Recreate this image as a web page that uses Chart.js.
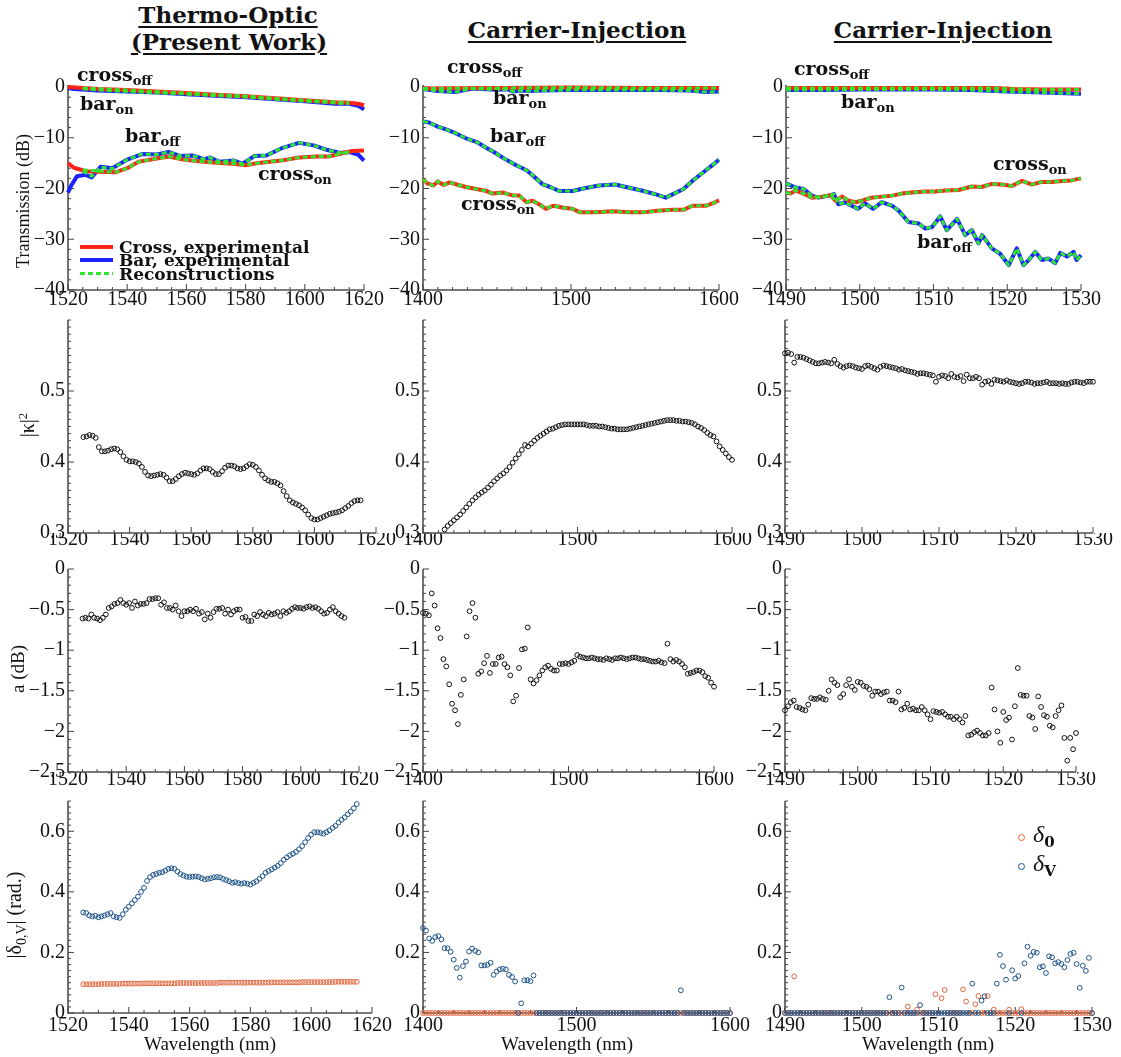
<!DOCTYPE html>
<html><head><meta charset="utf-8">
<script src="https://cdn.jsdelivr.net/npm/chart.js@4.4.0/dist/chart.umd.min.js"></script>
<style>
html,body{margin:0;padding:0;background:#fff;}
body{width:1121px;height:1057px;position:relative;overflow:hidden;font-family:'Liberation Serif','Times New Roman',Times,serif;color:#111;}
canvas{position:absolute;}
.t{position:absolute;white-space:nowrap;}
.title{font:bold 23px/26px 'DejaVu Serif',serif;text-decoration:underline;text-decoration-thickness:2px;text-underline-offset:3px;transform:translateX(-50%);}
.ann{font:bold 19px/22px 'DejaVu Serif',serif;}
.ann sub{font-size:13px;vertical-align:-4px;line-height:0;}
.ylab{font:18px/20px 'Liberation Serif','Times New Roman',Times,serif;transform:translate(-50%,-50%) rotate(-90deg);}
.xlab{font:19px/20px 'Liberation Serif','Times New Roman',Times,serif;transform:translateX(-50%);}
.leg{font:bold 17px/18px 'DejaVu Serif',serif;}
.sw{position:absolute;}
.circ{position:absolute;width:5px;height:5px;border-radius:50%;border:1.4px solid;}
.dl{font:italic 24px/26px 'Liberation Serif','Times New Roman',Times,serif;}
.dl span{font:bold 15px 'DejaVu Serif',serif;vertical-align:-5px;line-height:0;font-style:normal;}
</style></head><body>
<script>
// ================= DATA =================
// ---- Row 1: transmission (dB) ----
// Column 1: thermo-optic (1520-1620 nm)
const c1CrossOffWl=[1520,1525,1530,1540,1550,1560,1570,1580,1590,1600,1610,1615,1618,1620];
const c1CrossOffT=[0,-0.2,-0.4,-0.6,-0.9,-1.2,-1.5,-1.8,-2.2,-2.6,-3.0,-3.1,-3.3,-3.6];
const c1BarOnWl=[1520,1522,1530,1540,1550,1560,1570,1580,1590,1600,1610,1615,1618,1620];
const c1BarOnT=[-0.2,-0.4,-0.7,-0.9,-1.1,-1.4,-1.7,-2.0,-2.4,-2.8,-3.3,-3.3,-3.7,-4.4];
const c1BarOffWl=[1520,1521,1523,1526,1528,1531,1535,1540,1545,1550,1554,1558,1562,1566,1568,1571,1576,1579,1583,1587,1592,1598,1603,1607,1612,1615,1618,1620];
const c1BarOffT=[-20.8,-19.5,-17.6,-17.3,-17.8,-15.7,-16.0,-14.3,-13.2,-13.3,-12.8,-13.6,-13.5,-14.2,-13.9,-14.7,-14.5,-15.1,-13.6,-13.5,-12.1,-11.0,-11.5,-12.3,-13.0,-12.8,-13.3,-14.5];
const c1CrossOnWl=[1520,1522,1526,1531,1536,1540,1544,1550,1554,1559,1565,1570,1576,1580,1585,1592,1598,1604,1608,1613,1616,1620];
const c1CrossOnT=[-15.0,-15.9,-16.6,-16.7,-16.8,-16.0,-14.7,-14.1,-13.7,-14.3,-14.7,-14.9,-15.1,-15.4,-14.9,-14.5,-13.9,-13.7,-13.7,-13.0,-12.6,-12.5];
const c1RecOffWl=[1525,1540,1560,1580,1600,1615];
const c1RecCrossOffT=[-0.2,-0.6,-1.2,-1.8,-2.6,-3.1];
const c1RecBarOnT=[-0.4,-0.9,-1.4,-2.0,-2.8,-3.3];
const c1RecBarOffWl=[1525,1528,1531,1535,1540,1545,1550,1554,1558,1562,1566,1568,1571,1576,1579,1583,1587,1592,1598,1603,1607,1612,1615];
const c1RecBarOffT=[-16.6,-17.6,-15.8,-16.1,-14.3,-13.2,-13.3,-12.8,-13.6,-13.5,-14.2,-13.9,-14.7,-14.5,-15.1,-13.6,-13.5,-12.1,-11.0,-11.5,-12.3,-13.0,-12.8];
const c1RecCrossOnWl=[1525,1531,1536,1540,1544,1550,1554,1559,1565,1570,1576,1580,1585,1592,1598,1604,1608,1613,1615];
const c1RecCrossOnT=[-16.3,-16.6,-16.8,-16.0,-14.7,-14.1,-13.7,-14.3,-14.7,-14.9,-15.1,-15.4,-14.9,-14.5,-13.9,-13.7,-13.7,-13.0,-12.9];
// Column 2: carrier injection (1400-1600 nm)
const c2CrossOffWl=[1400,1450,1500,1550,1600];
const c2CrossOffT=[-0.3,-0.2,-0.1,-0.2,-0.2];
const c2BarOnWl=[1400,1405,1410,1416,1422,1428,1434,1440,1446,1452,1458,1461,1466,1472,1480,1500,1520,1540,1560,1580,1591,1600];
const c2BarOnT=[-0.4,-0.6,-0.8,-0.9,-1.0,-0.6,-0.3,-0.4,-0.5,-0.5,-0.5,-0.9,-0.7,-0.8,-0.7,-0.6,-0.6,-0.6,-0.6,-0.7,-1.0,-0.9];
const c2BarOffWl=[1400,1404,1410,1416,1422,1429,1436,1443,1449,1456,1463,1470,1476,1481,1486,1492,1501,1510,1519,1530,1540,1549,1558,1564,1569,1576,1582,1589,1596,1600];
const c2BarOffT=[-6.8,-7.0,-7.8,-8.4,-9.1,-10.1,-10.8,-12.0,-13.0,-14.3,-15.4,-16.4,-17.9,-19.2,-19.7,-20.5,-20.5,-19.9,-19.4,-19.2,-19.9,-20.5,-21.2,-21.8,-21.1,-20.1,-18.5,-16.9,-15.3,-14.3];
const c2CrossOnWl=[1400,1403,1407,1410,1414,1418,1424,1429,1436,1443,1447,1454,1461,1465,1470,1474,1479,1483,1488,1495,1501,1506,1517,1528,1540,1549,1558,1569,1576,1582,1591,1596,1600];
const c2CrossOnT=[-18.2,-19.0,-19.4,-18.6,-19.3,-18.8,-19.3,-19.7,-20.1,-20.5,-21.0,-20.8,-21.4,-21.4,-22.7,-22.4,-23.2,-24.0,-23.4,-23.8,-24.0,-24.7,-24.7,-24.5,-24.7,-24.7,-24.4,-24.2,-24.2,-23.4,-23.4,-22.9,-22.3];
// Column 3: carrier injection (1490-1530 nm)
const c3CrossOffWl=[1490,1500,1510,1518,1521,1525,1530];
const c3CrossOffT=[-0.2,-0.2,-0.2,-0.2,-0.4,-0.5,-0.5];
const c3BarOnWl=[1490,1495,1500,1505,1510,1515,1520,1525,1530];
const c3BarOnT=[-0.6,-0.6,-0.5,-0.5,-0.5,-0.6,-0.9,-1.1,-1.3];
const c3CrossOnWl=[1490,1490.6,1491.3,1492.4,1493.5,1494.9,1496,1496.7,1497.6,1498.5,1499.4,1500.3,1501.6,1503,1504.4,1505.7,1507,1508.9,1510.2,1511.6,1513.4,1515.2,1516.5,1517.9,1519.3,1520.6,1522,1523.3,1524.7,1526,1527.4,1528.7,1530];
const c3CrossOnT=[-20.8,-21.0,-20.4,-21.0,-21.8,-21.6,-21.3,-22.4,-21.6,-22.4,-22.7,-22.4,-21.8,-21.6,-21.4,-21.0,-20.8,-20.6,-20.6,-20.4,-20.3,-19.6,-19.7,-19.1,-19.2,-19.5,-18.5,-19.2,-18.7,-18.7,-18.5,-18.4,-18.0];
const c3BarOffWl=[1490,1491.3,1492.4,1493.5,1494.4,1495.8,1496.5,1497.1,1498,1498.9,1499.8,1500.7,1501.8,1503,1504.4,1505.3,1506.6,1508,1508.9,1509.8,1510.9,1511.8,1513.2,1514.3,1515.2,1516.1,1516.6,1517.9,1519,1520.2,1521.3,1522.2,1522.9,1523.8,1524.7,1525.6,1526.5,1527.2,1528.1,1529,1529.4,1530];
const c3BarOffT=[-19.0,-19.8,-20.1,-21.4,-21.8,-21.4,-21.1,-23.1,-22.7,-23.4,-24.0,-22.9,-24.0,-22.7,-23.4,-24.4,-26.6,-26.9,-27.9,-27.6,-25.5,-28.2,-26.0,-29.2,-28.2,-30.8,-29.2,-31.8,-32.8,-35.1,-31.8,-35.1,-34.1,-32.5,-34.1,-33.8,-34.7,-32.7,-33.4,-32.5,-34.1,-33.1];

// ---- measurement grids (start, step) for rows 2-4 ----
const grid1={start:1525,step:1,n:91};
const grid2={start:1400,step:2,n:101};
const grid2k={start:1414,step:2,n:94};
const grid3={start:1490,step:0.4,n:101};

// ---- Row 2: |kappa|^2 ----
const kappa1=[0.435,0.436,0.438,0.437,0.434,0.421,0.415,0.415,0.416,0.418,
0.419,0.418,0.414,0.408,0.403,0.401,0.401,0.400,0.398,0.393,
0.386,0.381,0.380,0.381,0.382,0.383,0.382,0.378,0.373,0.373,
0.376,0.380,0.383,0.385,0.384,0.383,0.382,0.384,0.388,0.391,
0.391,0.390,0.386,0.383,0.383,0.387,0.392,0.395,0.395,0.394,
0.391,0.390,0.391,0.394,0.397,0.396,0.393,0.388,0.382,0.377,
0.374,0.372,0.372,0.370,0.367,0.359,0.352,0.346,0.343,0.341,
0.339,0.336,0.332,0.326,0.321,0.319,0.319,0.321,0.323,0.325,
0.327,0.328,0.329,0.330,0.332,0.335,0.338,0.342,0.345,0.346,0.346];
const kappa2=[.305,.310,.314,.318,.322,.326,.331,.336,.341,.346,
.350,.354,.357,.360,.364,.368,.373,.377,.381,.384,
.388,.393,.399,.405,.411,.417,.424,.422,.426,.430,
.434,.437,.440,.443,.446,.447,.449,.451,.452,.453,
.453,.453,.453,.453,.453,.453,.452,.451,.451,.451,
.450,.450,.449,.448,.447,.447,.446,.446,.446,.446,
.447,.448,.449,.450,.451,.452,.453,.454,.455,.456,
.457,.458,.459,.459,.459,.458,.458,.457,.457,.456,
.455,.453,.450,.448,.445,.441,.438,.436,.429,.422,
.417,.412,.407,.403];
const kappa3=[0.553,0.554,0.552,0.540,0.548,0.548,0.547,0.545,0.543,0.541,
0.539,0.539,0.540,0.541,0.540,0.539,0.544,0.538,0.535,0.533,
0.535,0.536,0.535,0.533,0.532,0.531,0.535,0.536,0.534,0.532,
0.530,0.534,0.536,0.535,0.534,0.533,0.532,0.530,0.531,0.529,
0.528,0.527,0.526,0.524,0.525,0.525,0.524,0.523,0.522,0.513,
0.520,0.522,0.521,0.518,0.524,0.520,0.519,0.521,0.514,0.523,
0.518,0.518,0.520,0.518,0.509,0.513,0.514,0.510,0.516,0.515,
0.514,0.513,0.515,0.513,0.512,0.511,0.510,0.511,0.513,0.513,
0.512,0.510,0.511,0.511,0.512,0.513,0.511,0.511,0.511,0.510,
0.511,0.510,0.510,0.512,0.513,0.513,0.512,0.511,0.513,0.513,0.513];

// ---- Row 3: a (dB) ----
const loss1=[-0.61,-0.60,-0.61,-0.56,-0.60,-0.61,-0.63,-0.60,-0.56,-0.48,
-0.46,-0.43,-0.42,-0.38,-0.42,-0.44,-0.42,-0.48,-0.40,-0.45,
-0.43,-0.43,-0.42,-0.37,-0.37,-0.36,-0.36,-0.44,-0.41,-0.48,
-0.48,-0.50,-0.45,-0.52,-0.58,-0.52,-0.52,-0.50,-0.52,-0.49,
-0.55,-0.53,-0.62,-0.55,-0.60,-0.53,-0.49,-0.49,-0.48,-0.55,
-0.50,-0.56,-0.52,-0.50,-0.50,-0.60,-0.59,-0.64,-0.64,-0.56,
-0.58,-0.53,-0.56,-0.58,-0.54,-0.56,-0.55,-0.53,-0.58,-0.52,
-0.54,-0.52,-0.49,-0.47,-0.48,-0.48,-0.49,-0.47,-0.46,-0.48,
-0.47,-0.49,-0.52,-0.55,-0.54,-0.50,-0.47,-0.52,-0.55,-0.58,-0.60];
const loss2=[-0.54,-0.55,-0.57,-0.30,-0.45,-0.73,-0.85,-1.11,-1.20,-1.42,
-1.66,-1.74,-1.91,-1.55,-1.36,-0.83,-0.52,-0.42,-0.60,-1.29,
-1.26,-1.16,-1.07,-1.28,-1.17,-1.17,-1.09,-1.08,-1.17,-1.21,
-1.31,-1.63,-1.56,-1.22,-0.99,-0.98,-0.72,-1.36,-1.41,-1.37,
-1.31,-1.25,-1.21,-1.19,-1.23,-1.25,-1.25,-1.17,-1.17,-1.16,
-1.17,-1.15,-1.13,-1.06,-1.08,-1.09,-1.10,-1.10,-1.09,-1.10,
-1.11,-1.11,-1.12,-1.10,-1.11,-1.12,-1.10,-1.10,-1.09,-1.10,
-1.11,-1.10,-1.09,-1.09,-1.10,-1.11,-1.11,-1.12,-1.13,-1.14,
-1.14,-1.13,-1.15,-1.16,-0.92,-1.11,-1.14,-1.12,-1.14,-1.17,
-1.21,-1.29,-1.28,-1.27,-1.25,-1.25,-1.27,-1.32,-1.34,-1.40,-1.45];
const loss3=[-1.74,-1.69,-1.64,-1.62,-1.70,-1.71,-1.73,-1.74,-1.67,-1.59,
-1.60,-1.60,-1.58,-1.60,-1.61,-1.50,-1.36,-1.40,-1.43,-1.58,
-1.54,-1.43,-1.36,-1.45,-1.49,-1.39,-1.40,-1.44,-1.45,-1.48,
-1.56,-1.51,-1.51,-1.54,-1.52,-1.51,-1.62,-1.62,-1.64,-1.51,
-1.73,-1.71,-1.66,-1.73,-1.72,-1.74,-1.74,-1.70,-1.74,-1.79,
-1.85,-1.75,-1.76,-1.77,-1.76,-1.79,-1.82,-1.82,-1.85,-1.82,
-1.85,-1.89,-1.81,-2.05,-2.04,-2.01,-1.99,-2.02,-2.05,-2.05,
-2.02,-1.46,-1.73,-2.00,-2.14,-1.76,-1.86,-1.83,-2.10,-1.69,
-1.22,-1.55,-1.56,-1.56,-1.81,-1.83,-1.97,-1.57,-1.70,-1.80,
-1.82,-1.93,-1.95,-1.81,-1.74,-1.68,-2.08,-2.36,-2.08,-2.22,-2.02];

// ---- Row 4: |delta_0| and |delta_V| (rad.) ----
const deltaV1=[.332,.330,.322,.319,.321,.316,.319,.322,.326,.330,
.319,.316,.314,.326,.341,.351,.362,.373,.384,.400,
.413,.436,.449,.456,.459,.463,.465,.470,.476,.478,
.476,.467,.459,.454,.450,.449,.450,.451,.449,.445,
.441,.443,.445,.448,.449,.448,.443,.439,.435,.430,
.432,.429,.427,.429,.427,.424,.430,.435,.443,.452,
.463,.469,.474,.480,.486,.495,.506,.514,.521,.526,
.532,.541,.551,.564,.578,.589,.597,.597,.595,.592,
.597,.603,.611,.618,.629,.638,.646,.656,.665,.676,.690];
const delta01=[.095,.095,.095,.095,.095,.095,.096,.096,.096,.096,
.096,.096,.096,.097,.097,.097,.097,.097,.097,.097,
.098,.098,.098,.098,.098,.098,.098,.098,.098,.098,
.098,.099,.099,.099,.099,.099,.099,.099,.099,.099,
.099,.099,.099,.099,.099,.100,.100,.100,.100,.100,
.100,.100,.100,.100,.100,.100,.100,.100,.100,.100,
.100,.101,.101,.101,.101,.101,.101,.101,.101,.101,
.101,.101,.102,.102,.102,.102,.102,.102,.102,.102,
.102,.102,.102,.103,.103,.103,.103,.103,.103,.103,.103];
const deltaV2=[.281,.272,.246,.238,.251,.254,.243,.214,.214,.202,
.176,.149,.117,.155,.170,.203,.213,.205,.200,.157,
.157,.159,.166,.126,.137,.144,.146,.144,.126,.119,
.104,0,.032,.108,.108,.105,.124,0,0,0,
0,0,0,0,0,0,0,0,0,0,
0,0,0,0,0,0,0,0,0,0,
0,0,0,0,0,0,0,0,0,0,
0,0,0,0,0,0,0,0,0,0,
0,0,0,0,.075,0,0,0,0,0,
0,0,0,0,0,0,0,0,0,0,0];
const delta02=[0,0,0,0,0,0,0,0,0,0,
0,0,0,0,0,0,0,0,0,0,
0,0,0,0,0,0,0,0,0,0,
0,0,0,0,0,0,0,0,0,0,
0,0,0,0,0,0,0,0,0,0,
0,0,0,0,0,0,0,0,0,0,
0,0,0,0,0,0,0,0,0,0,
0,0,0,0,0,0,0,0,0,0,
0,0,0,0,0,0,0,0,0,0,
0,0,0,0,0,0,0,0,0,0,0];
const deltaV3=[0,0,0,0,0,0,0,0,0,0,
0,0,0,0,0,0,0,0,0,0,
0,0,0,0,0,0,0,0,0,0,
0,0,0,0,.052,0,0,0,.084,0,
0,0,0,0,.026,0,0,0,0,0,
0,0,0,0,0,0,0,0,0,0,
0,.097,0,0,.041,.055,0,0,0,.097,
.192,.155,.110,0,.141,.114,.122,0,.164,.219,
.189,.202,.199,.151,.154,.132,.187,.184,.164,.168,
.162,.151,.175,.195,.199,.162,.083,.156,.139,.182,0];
const delta03=[0,0,0,.121,0,0,0,0,0,0,
0,0,0,0,0,0,0,0,0,0,
0,0,0,0,0,0,0,0,0,0,
0,0,0,0,0,0,0,0,0,0,
.021,0,0,.011,0,0,0,0,0,.062,
0,.049,.076,0,0,0,0,0,.078,.038,
0,0,.029,.056,0,0,.056,0,.011,0,
0,0,0,.011,0,0,0,.013,0,0,
0,0,0,0,0,0,0,0,0,0,
0,0,0,0,0,0,0,0,0,0,0];

// ---- tick labels ----
const xTicks1=[1520,1540,1560,1580,1600,1620];
const xTicks2=[1400,1500,1600];
const xTicks3=[1490,1500,1510,1520,1530];
const yTicksT=[0,-10,-20,-30,-40];
const yTicksK=[0.3,0.4,0.5];
const yTicksA=[0,-0.5,-1,-1.5,-2,-2.5];
const yTicksD=[0,0.2,0.4,0.6];

// ================= DRAWING =================
const RED='#ff2418', BLUE='#1c22ff', GREEN='#2ee62e', DBLUE='#1f5388', ORANGE='#e2663e';
const FONT="'Liberation Serif', 'Times New Roman', Times, serif";
const wlGrid=g=>Array.from({length:g.n},(_,i)=>+(g.start+i*g.step).toFixed(2));
const pts=(xs,ys)=>ys.map((y,i)=>({x:xs[i],y}));
const line=(xs,ys,color,w,dash)=>({data:pts(xs,ys),showLine:true,borderColor:color,borderWidth:w,borderDash:dash||[],pointRadius:0,tension:0,clip:6,borderJoinStyle:'round'});
const dots=(g,ys,color)=>({data:pts(wlGrid(g),ys),showLine:false,pointRadius:2.4,pointBorderWidth:1,pointBorderColor:color,pointBackgroundColor:'rgba(255,255,255,0)',clip:8});
const fmtY=v=>v<0?'\u2212'+String(Math.abs(v)):String(v);

const axisPlugin={id:'axes',beforeDatasetsDraw(chart){
  const o=chart.options.plugins.axes, ctx=chart.ctx, ca=chart.chartArea, xs=chart.scales.x, ys=chart.scales.y;
  ctx.save();
  ctx.strokeStyle='#505050';ctx.lineWidth=1.6;
  ctx.beginPath();ctx.moveTo(ca.left,ca.top);ctx.lineTo(ca.left,ca.bottom);ctx.lineTo(ca.right,ca.bottom);ctx.stroke();
  ctx.lineWidth=1;ctx.strokeStyle='#444';
  const nx=Math.round((xs.max-xs.min)/o.xMinor);
  for(let i=0;i<=nx;i++){const v=xs.min+i*o.xMinor;const p=xs.getPixelForValue(v);const major=o.xTicks.some(t=>Math.abs(t-v)<1e-6);
    ctx.beginPath();ctx.moveTo(p,ca.bottom);ctx.lineTo(p,ca.bottom-(major?6:3));ctx.stroke();}
  const ny=Math.round((o.yTop-ys.min)/o.yMinor);
  for(let i=0;i<=ny;i++){const v=ys.min+i*o.yMinor;const p=ys.getPixelForValue(v);const major=o.yTicks.some(t=>Math.abs(t-v)<1e-6);
    ctx.beginPath();ctx.moveTo(ca.left,p);ctx.lineTo(ca.left+(major?6:3),p);ctx.stroke();}
  ctx.restore();
}};

function panel(g,xo,yo,datasets){
  const padTop=12,padRight=30,yW=60,xH=30;
  const w=g.R-g.L+yW+padRight,h=g.B-g.T+padTop+xH;
  const c=document.createElement('canvas');
  c.width=w;c.height=h;c.style.left=(g.L-yW)+'px';c.style.top=(g.T-padTop)+'px';c.style.width=w+'px';c.style.height=h+'px';
  document.body.appendChild(c);
  new Chart(c,{type:'scatter',data:{datasets},
    options:{responsive:false,animation:false,devicePixelRatio:1,events:[],
      layout:{padding:{left:0,top:padTop,right:padRight,bottom:0}},
      plugins:{legend:{display:false},tooltip:{enabled:false},
        axes:{xMinor:xo.minor,xTicks:xo.ticks,yMinor:yo.minor,yTicks:yo.ticks,yTop:yo.top}},
      scales:{
        x:{type:'linear',min:xo.min,max:xo.max,afterFit:s=>{s.height=xH;},
           afterBuildTicks:s=>{s.ticks=xo.ticks.map(v=>({value:v}));},
           ticks:{autoSkip:false,maxRotation:0,padding:xo.pad,color:'#111',font:{family:FONT,size:20},callback:v=>String(v)},
           grid:{display:false,drawTicks:false},border:{display:false}},
        y:{type:'linear',min:yo.min,max:yo.max,afterFit:s=>{s.width=yW;},
           afterBuildTicks:s=>{s.ticks=yo.ticks.map(v=>({value:v}));},
           ticks:{autoSkip:false,padding:3,color:'#111',font:{family:FONT,size:20},callback:fmtY},
           grid:{display:false,drawTicks:false},border:{display:false}}
      }},
    plugins:[axisPlugin]});
}

// geometry of plot areas
const xCol=[
  {min:1520,max:1620,ticks:xTicks1,minor:5},
  {min:1400,max:1600,ticks:xTicks2,minor:10},
  {min:1490,max:1530,ticks:xTicks3,minor:2}];
const rows=[
  {T:82,B:290,pad:-2,LR:[[68,364],[423,719],[786,1081]],y:{min:-40,max:0.4,top:0,ticks:yTicksT,minor:2}},
  {T:317,B:533,pad:-5,LR:[[68,376],[423,732],[785,1093]],y:{min:0.3,max:0.6,top:0.6,ticks:yTicksK,minor:0.01}},
  {T:566,B:772,pad:-4.5,LR:[[68,359],[423,714],[785,1076]],y:{min:-2.5,max:0,top:0,ticks:yTicksA,minor:0.1}},
  {T:798,B:1013,pad:0.5,LR:[[68,372],[423,730],[785,1092]],y:{min:0,max:0.7,top:0.7,ticks:yTicksD,minor:0.02}}];

const DASH=[5,3];
const rowData=[
 [ // row 1
  [line(c1RecOffWl,c1RecCrossOffT,GREEN,3,DASH),line(c1RecOffWl,c1RecBarOnT,GREEN,3,DASH),
   line(c1RecBarOffWl,c1RecBarOffT,GREEN,3,DASH),line(c1RecCrossOnWl,c1RecCrossOnT,GREEN,3,DASH),
   line(c1CrossOffWl,c1CrossOffT,RED,4),line(c1CrossOnWl,c1CrossOnT,RED,4),
   line(c1BarOnWl,c1BarOnT,BLUE,4),line(c1BarOffWl,c1BarOffT,BLUE,4)],
  [line(c2CrossOffWl,c2CrossOffT,GREEN,3,DASH),line(c2BarOnWl,c2BarOnT,GREEN,3,DASH),
   line(c2BarOffWl,c2BarOffT,GREEN,3,DASH),line(c2CrossOnWl,c2CrossOnT,GREEN,3,DASH),
   line(c2CrossOffWl,c2CrossOffT,RED,4),line(c2CrossOnWl,c2CrossOnT,RED,4),
   line(c2BarOnWl,c2BarOnT,BLUE,4),line(c2BarOffWl,c2BarOffT,BLUE,4)],
  [line(c3CrossOffWl,c3CrossOffT,GREEN,3,DASH),line(c3BarOnWl,c3BarOnT,GREEN,3,DASH),
   line(c3BarOffWl,c3BarOffT,GREEN,3,DASH),line(c3CrossOnWl,c3CrossOnT,GREEN,3,DASH),
   line(c3CrossOffWl,c3CrossOffT,RED,4),line(c3CrossOnWl,c3CrossOnT,RED,4),
   line(c3BarOnWl,c3BarOnT,BLUE,4),line(c3BarOffWl,c3BarOffT,BLUE,4)]
 ],
 [[dots(grid1,kappa1,'#111')],[dots(grid2k,kappa2,'#111')],[dots(grid3,kappa3,'#111')]],
 [[dots(grid1,loss1,'#111')],[dots(grid2,loss2,'#111')],[dots(grid3,loss3,'#111')]],
 [[dots(grid1,deltaV1,DBLUE),dots(grid1,delta01,ORANGE)],
  [dots(grid2,deltaV2,DBLUE),dots(grid2,delta02,ORANGE)],
  [dots(grid3,deltaV3,DBLUE),dots(grid3,delta03,ORANGE)]]
];

rows.forEach((r,ri)=>{
  r.LR.forEach((lr,ci)=>{
    const xo=Object.assign({},xCol[ci],{pad:r.pad});
    panel({L:lr[0],R:lr[1],T:r.T,B:r.B},xo,r.y,rowData[ri][ci]);
  });
});

// ================= TEXT =================
function txt(cls,left,top,html,extra){
  const d=document.createElement('div');d.className='t '+cls;d.style.left=left+'px';d.style.top=top+'px';d.innerHTML=html;
  if(extra)Object.assign(d.style,extra);document.body.appendChild(d);return d;}
txt('title',228,2,'Thermo-Optic');
txt('title',229,29,'(Present Work)');
txt('title',577,17,'Carrier-Injection');
txt('title',943,17,'Carrier-Injection');
// curve annotations
[[77,63,'cross','off'],[80,92,'bar','on'],[125,124,'bar','off'],[258,162,'cross','on'],
 [447,55,'cross','off'],[493,86,'bar','on'],[490,124,'bar','off'],[461,192,'cross','on'],
 [794,57,'cross','off'],[841,90,'bar','on'],[993,152,'cross','on'],[917,230,'bar','off']]
 .forEach(a=>txt('ann',a[0],a[1],a[2]+'<sub>'+a[3]+'</sub>'));
// legend row 1
txt('sw',80,245,'',{width:'33px',height:'4px',background:RED});
txt('sw',80,258,'',{width:'33px',height:'4px',background:BLUE});
txt('sw',80,272,'',{width:'33px',height:'3px',background:'repeating-linear-gradient(90deg,'+GREEN+' 0 5px,transparent 5px 8px)'});
txt('leg',119,238,'Cross, experimental');
txt('leg',119,251,'Bar, experimental');
txt('leg',119,265,'Reconstructions');
// y titles
txt('ylab',23,201,'Transmission (dB)');
txt('ylab',25,425,'|\u03ba|<sup style="font-size:13px">2</sup>',{fontSize:'20px'});
txt('ylab',18,669,'a (dB)',{fontSize:'19px'});
txt('ylab',18,915,'|\u03b4<sub style="font-size:14px">0,V</sub>| (rad.)',{fontSize:'20px'});
// x titles
txt('xlab',210,1034,'Wavelength (nm)');
txt('xlab',567,1034,'Wavelength (nm)');
txt('xlab',928,1034,'Wavelength (nm)');
// delta legend
txt('circ',1018,834,'',{borderColor:ORANGE});
txt('circ',1018,863,'',{borderColor:DBLUE});
txt('dl',1033,821,'\u03b4<span>0</span>');
txt('dl',1033,850,'\u03b4<span>V</span>');
</script>
</body></html>
